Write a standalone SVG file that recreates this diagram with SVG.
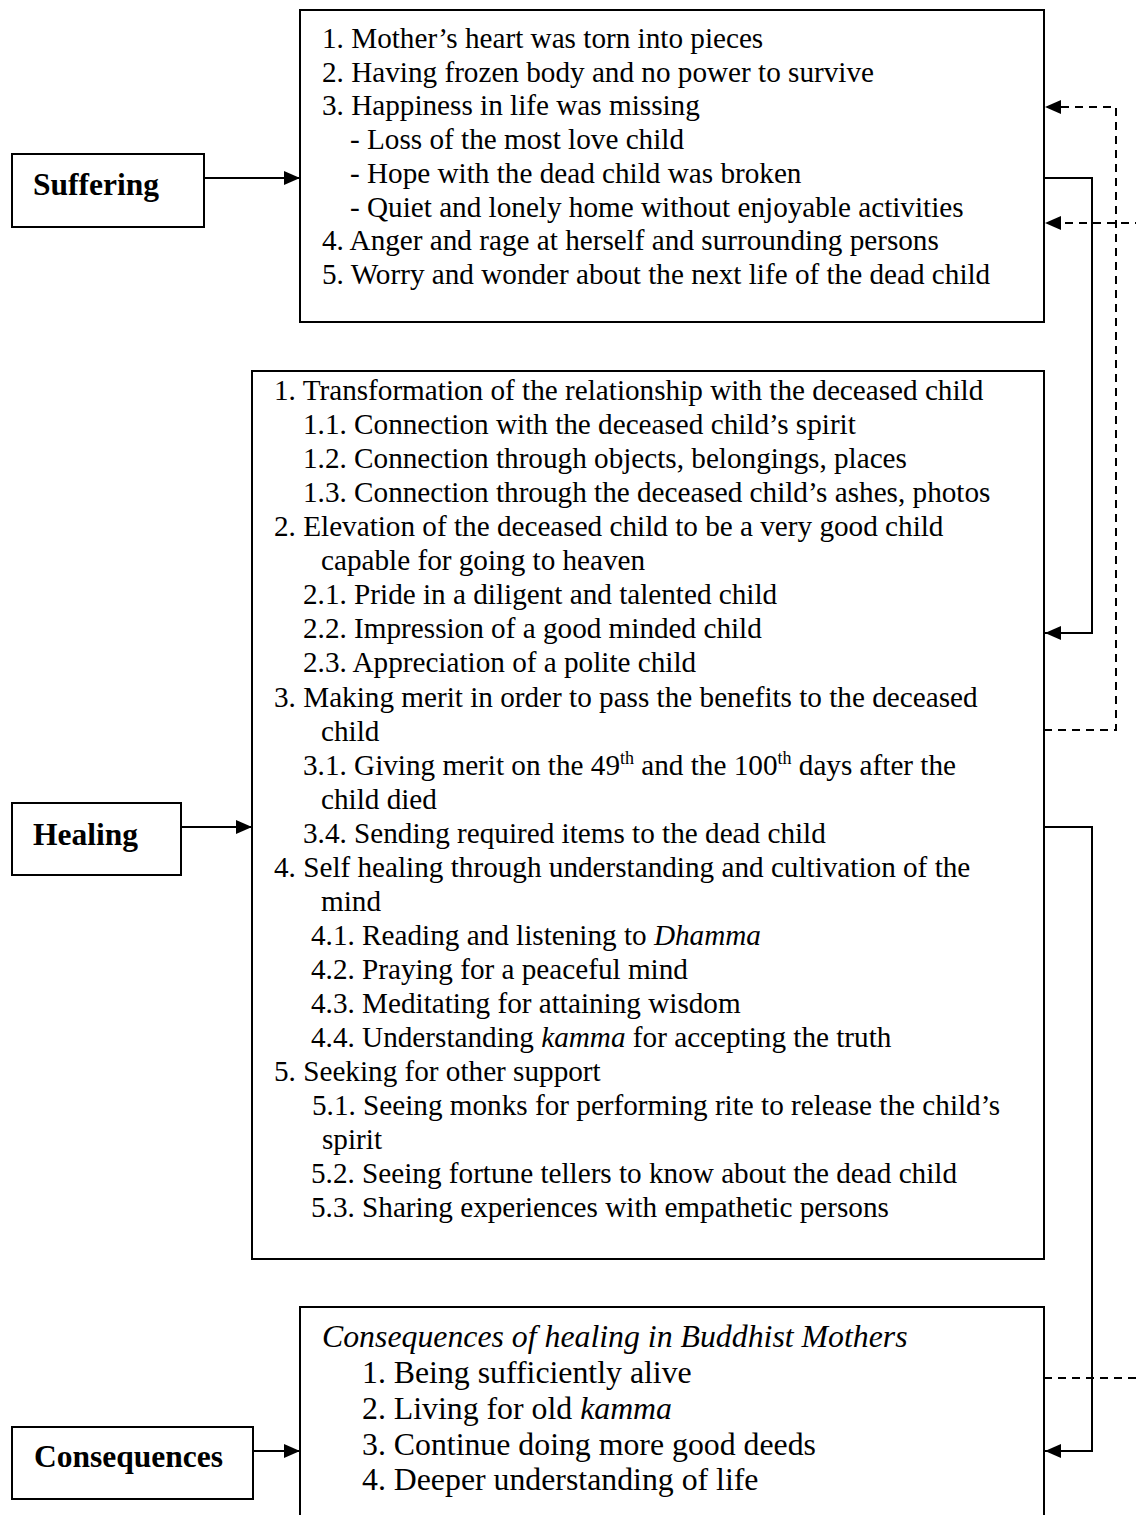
<svg xmlns="http://www.w3.org/2000/svg" width="1136" height="1515" viewBox="0 0 1136 1515">
<style>
.bg{fill:#fff}
.box{fill:#fff;stroke:#000;stroke-width:2}
.t{font-family:"Liberation Serif","Times New Roman",serif;font-size:29.2px;fill:#000}
.c{font-family:"Liberation Serif","Times New Roman",serif;font-size:31.8px;fill:#000}
.lbl{font-family:"Liberation Serif","Times New Roman",serif;font-size:31.5px;font-weight:bold;fill:#000}
.sup{font-size:18px}
.conn{fill:none;stroke:#000;stroke-width:2}
.dash{stroke-dasharray:8 6}
</style>
<defs>
<marker id="ah" markerWidth="16" markerHeight="14" refX="16" refY="7" orient="auto" markerUnits="userSpaceOnUse">
<path d="M0,0 L16,7 L0,14 z" fill="#000"/>
</marker>
</defs>
<rect class="bg" x="0" y="0" width="1136" height="1515"/>

<g id="connectors">
<path class="conn" d="M204,178 H300" marker-end="url(#ah)"/>
<path class="conn" d="M181,827 H252" marker-end="url(#ah)"/>
<path class="conn" d="M253,1451 H300" marker-end="url(#ah)"/>
<path class="conn" d="M1044,178 H1092 V633 H1045" marker-end="url(#ah)"/>
<path class="conn" d="M1044,827 H1092 V1451 H1045" marker-end="url(#ah)"/>
<path class="conn dash" d="M1044,730 H1116 V107 H1045" marker-end="url(#ah)"/>
<path class="conn dash" d="M1044,1378 H1160 V223 H1045" marker-end="url(#ah)"/>
</g>

<g id="suffering-label">
<rect class="box" x="12" y="154" width="192" height="73"/>
<text class="lbl" x="33" y="195">Suffering</text>
</g>

<g id="suffering">
<rect class="box" x="300" y="10" width="744" height="312"/>
<text class="t" x="322" y="48">1. Mother’s heart was torn into pieces</text>
<text class="t" x="322" y="81.7">2. Having frozen body and no power to survive</text>
<text class="t" x="322" y="115.4">3. Happiness in life was missing</text>
<text class="t" x="350" y="149.1">- Loss of the most love child</text>
<text class="t" x="350" y="182.8">- Hope with the dead child was broken</text>
<text class="t" x="350" y="216.5">- Quiet and lonely home without enjoyable activities</text>
<text class="t" x="322" y="250.2">4. Anger and rage at herself and surrounding persons</text>
<text class="t" x="322" y="283.9">5. Worry and wonder about the next life of the dead child</text>
</g>

<g id="healing-label">
<rect class="box" x="12" y="803" width="169" height="72"/>
<text class="lbl" x="33" y="845">Healing</text>
</g>

<g id="healing">
<rect class="box" x="252" y="371" width="792" height="888"/>
<text class="t" x="274" y="400">1. Transformation of the relationship with the deceased child</text>
<text class="t" x="303" y="434.1">1.1. Connection with the deceased child’s spirit</text>
<text class="t" x="303" y="468.1">1.2. Connection through objects, belongings, places</text>
<text class="t" x="303" y="502.2">1.3. Connection through the deceased child’s ashes, photos</text>
<text class="t" x="274" y="536.2">2. Elevation of the deceased child to be a very good child</text>
<text class="t" x="321" y="570.3">capable for going to heaven</text>
<text class="t" x="303" y="604.3">2.1. Pride in a diligent and talented child</text>
<text class="t" x="303" y="638.4">2.2. Impression of a good minded child</text>
<text class="t" x="303" y="672.4">2.3. Appreciation of a polite child</text>
<text class="t" x="274" y="706.5">3. Making merit in order to pass the benefits to the deceased</text>
<text class="t" x="321" y="740.5">child</text>
<text class="t" x="303" y="774.6">3.1. Giving merit on the 49<tspan class="sup" dy="-11">th</tspan><tspan dy="11"> and the 100</tspan><tspan class="sup" dy="-11">th</tspan><tspan dy="11"> days after the</tspan></text>
<text class="t" x="321" y="808.6">child died</text>
<text class="t" x="303" y="842.7">3.4. Sending required items to the dead child</text>
<text class="t" x="274" y="876.7">4. Self healing through understanding and cultivation of the</text>
<text class="t" x="321" y="910.8">mind</text>
<text class="t" x="311" y="944.8">4.1. Reading and listening to <tspan font-style="italic">Dhamma</tspan></text>
<text class="t" x="311" y="978.9">4.2. Praying for a peaceful mind</text>
<text class="t" x="311" y="1012.9">4.3. Meditating for attaining wisdom</text>
<text class="t" x="311" y="1047">4.4. Understanding <tspan font-style="italic">kamma</tspan> for accepting the truth</text>
<text class="t" x="274" y="1081">5. Seeking for other support</text>
<text class="t" x="312" y="1115.1">5.1. Seeing monks for performing rite to release the child’s</text>
<text class="t" x="322" y="1149.1">spirit</text>
<text class="t" x="311" y="1183.2">5.2. Seeing fortune tellers to know about the dead child</text>
<text class="t" x="311" y="1217.2">5.3. Sharing experiences with empathetic persons</text>
</g>

<g id="consequences-label">
<rect class="box" x="12" y="1427" width="241" height="72"/>
<text class="lbl" x="34" y="1467">Consequences</text>
</g>

<g id="consequences">
<rect class="box" x="300" y="1307" width="744" height="260"/>
<text class="c" x="322" y="1347" font-style="italic">Consequences of healing in Buddhist Mothers</text>
<text class="c" x="362" y="1383">1. Being sufficiently alive</text>
<text class="c" x="362" y="1419">2. Living for old <tspan font-style="italic">kamma</tspan></text>
<text class="c" x="362" y="1455">3. Continue doing more good deeds</text>
<text class="c" x="362" y="1490">4. Deeper understanding of life</text>
</g>
</svg>
